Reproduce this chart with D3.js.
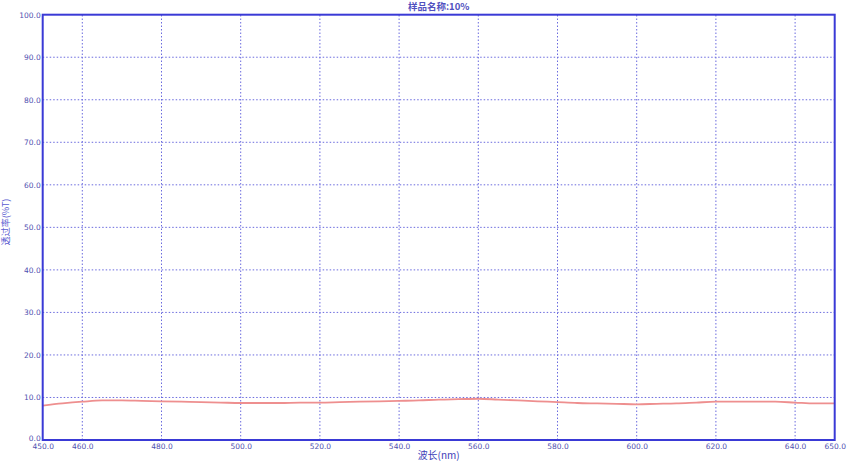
<!DOCTYPE html>
<html><head><meta charset="utf-8">
<script src="https://cdn.jsdelivr.net/npm/d3@7"></script>
<style>body{margin:0;background:#fff;}svg{display:block;font-family:"Noto Sans CJK SC","DejaVu Sans",sans-serif;}</style>
</head><body>
<script>
const wavelengths = [450,455,460,465,470,475,480,485,490,495,500,505,510,515,520,525,530,535,540,545,550,555,560,565,570,575,580,585,590,595,600,605,610,615,620,625,630,635,640,645,650];
const transmittance = [8.1,8.6,9.0,9.3,9.3,9.2,9.1,9.0,8.9,8.8,8.7,8.7,8.7,8.8,8.8,8.9,9.0,9.1,9.2,9.3,9.5,9.6,9.7,9.5,9.3,9.1,8.9,8.7,8.6,8.5,8.4,8.5,8.6,8.8,9.0,9.0,9.0,9.0,8.8,8.6,8.6];
const xTicks = [450,460,480,500,520,540,560,580,600,620,640,650];
const xGrid = [460,480,500,520,540,560,580,600,620,640];
const yTicks = [0,10,20,30,40,50,60,70,80,90,100];
const title = "样品名称:10%";
const xLabel = "波长(nm)";
const yLabel = "透过率(%T)";

const W = 850, H = 463;
const m = {l:42.7, r:W-834.7, t:14.7, b:H-440};
const svg = d3.select("body").append("svg").attr("width",W).attr("height",H);
const x = d3.scaleLinear().domain([450,650]).range([m.l, W-m.r]);
const y = d3.scaleLinear().domain([0,100]).range([H-m.b, m.t]);
const blue = "#3a3ad6", grid = "#6a6ade", txt = "#5050b0";

// grid
svg.append("g").selectAll("line").data(xGrid).join("line")
  .attr("x1",d=>x(d)).attr("x2",d=>x(d)).attr("y1",y(0)).attr("y2",y(100))
  .attr("stroke",grid).attr("stroke-width",1).attr("stroke-dasharray","1.5,2");
svg.append("g").selectAll("line").data(yTicks.slice(1,-1)).join("line")
  .attr("x1",x(450)).attr("x2",x(650)).attr("y1",d=>y(d)).attr("y2",d=>y(d))
  .attr("stroke",grid).attr("stroke-width",1).attr("stroke-dasharray","1.5,2");

// axes (labels only)
const xAxis = svg.append("g").attr("transform",`translate(0,${y(0)})`)
  .call(d3.axisBottom(x).tickValues(xTicks).tickFormat(d3.format(".1f")).tickSize(0).tickPadding(3.5));
const yAxis = svg.append("g").attr("transform",`translate(${x(450)},0)`)
  .call(d3.axisLeft(y).tickValues(yTicks).tickFormat(d3.format(".1f")).tickSize(0).tickPadding(2));
[xAxis,yAxis].forEach(g=>{
  g.select(".domain").remove();
  g.selectAll("text").attr("fill",txt).style("font-family","Verdana,'DejaVu Sans',sans-serif").style("font-size","7.5px");
});
yAxis.selectAll(".tick").filter(d=>d===0).select("text").attr("dy","0.1em");

// line
svg.append("path").datum(wavelengths.map((w,i)=>[w,transmittance[i]]))
  .attr("d", d3.line().x(d=>x(d[0])).y(d=>y(d[1])).curve(d3.curveMonotoneX))
  .attr("fill","none").attr("stroke","#ee8f8f").attr("stroke-width",1.8);

// frame
svg.append("rect").attr("x",x(450)).attr("y",y(100)).attr("width",x(650)-x(450)).attr("height",y(0)-y(100))
  .attr("fill","none").attr("stroke",blue).attr("stroke-width",2);

// titles
svg.append("text").attr("x",(x(450)+x(650))/2).attr("y",10).attr("text-anchor","middle")
  .attr("fill","#5050c0").style("font-size","9.5px").style("font-weight","bold").text(title);
svg.append("text").attr("x",(x(450)+x(650))/2).attr("y",459).attr("text-anchor","middle")
  .attr("fill","#4040b8").style("font-size","10px").text(xLabel);
svg.append("text").attr("transform",`translate(9,222) rotate(-90)`).attr("text-anchor","middle")
  .attr("fill","#5a5ad0").style("font-size","9px").text(yLabel);
</script>
</body></html>
